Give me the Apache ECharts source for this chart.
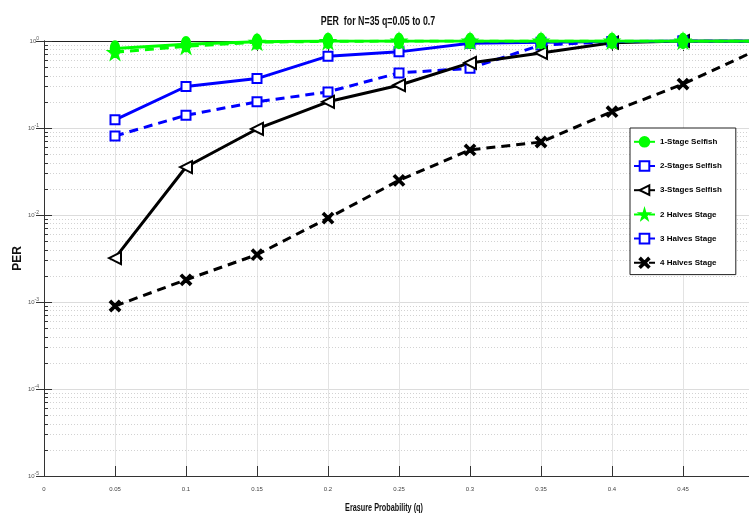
<!DOCTYPE html>
<html>
<head>
<meta charset="utf-8">
<script src="https://cdn.jsdelivr.net/npm/echarts@6/dist/echarts.min.js"></script>
<style>
  html, body { margin: 0; padding: 0; background: #fff; }
  #main { width: 749px; height: 515px; }
</style>
</head>
<body>
<div id="main"></div>
<script>
// erasure probability q
const qValues = [0.05, 0.1, 0.15, 0.2, 0.25, 0.3, 0.35, 0.4, 0.45, 0.5];

// PER
const oneStageSelfish = [0.82, 0.92, 0.98, 1, 1, 1, 1, 1, 1, 1];
const twoStagesSelfish = [0.124, 0.30, 0.37, 0.67, 0.75, 0.94, 0.97, 0.99, 1, 1];
const threeStagesSelfish = [0.0032, 0.0356, 0.0975, 0.2, 0.31, 0.56, 0.73, 0.955, 1, 1];
const twoHalvesStage = [0.74, 0.87, 0.97, 0.99, 1, 1, 1, 1, 1, 1];
const threeHalvesStage = [0.081, 0.14, 0.20, 0.26, 0.43, 0.485, 0.9, 0.98, 1, 1];
const fourHalvesStage = [0.0009, 0.0018, 0.0035, 0.0092, 0.025, 0.056, 0.069, 0.154, 0.32, 0.76];

const legendNames = ["1-Stage Selfish", "2-Stages Selfish", "3-Stages Selfish",
  "2 Halves Stage", "3 Halves Stage", "4 Halves Stage"];

// minor log ticks (2..9 in each decade)
const decades = [1e-5, 1e-4, 1e-3, 1e-2, 1e-1];
const minorSteps = [2, 3, 4, 5, 6, 7, 8, 9];
const minorTicks = [];
decades.forEach(d => minorSteps.forEach(s => minorTicks.push([0, s * d])));

const FONT = "'Liberation Sans', Arial, sans-serif";
const starPath = "path://M50,0 L61,35 L98,35 L68,57 L79,91 L50,70 L21,91 L32,57 L2,35 L39,35 Z";
const crossPath = "path://M0,12 L12,0 L50,38 L88,0 L100,12 L62,50 L100,88 L88,100 L50,62 L12,100 L0,88 L38,50 Z";

function pts(values) {
  // last point (q = 0.5) lies at the cut-off right edge, no marker there
  return values.map((v, i) => {
    if (i === values.length - 1) return { value: [qValues[i], v], symbol: "none" };
    return [qValues[i], v];
  });
}

function lineSeries(name, values, color, dashed, symbol, symbolSize, extra) {
  return Object.assign({
    name: name,
    type: "line",
    data: pts(values),
    symbol: symbol,
    symbolSize: symbolSize,
    showAllSymbol: true,
    lineStyle: { color: color, width: 3, type: dashed ? [9, 6] : "solid" },
    itemStyle: { color: color, borderColor: color, borderWidth: 2 },
    z: 3
  }, extra || {});
}

const chart = echarts.init(document.getElementById("main"));

const option = {
  animation: false,
  // narrow (condensed) bold text like the original figure
  graphic: [{
    type: "text",
    x: 378, y: 21,
    scaleX: 0.68,
    style: {
      text: "PER  for N=35 q=0.05 to 0.7",
      font: "bold 13px 'Liberation Sans', Arial, sans-serif",
      fill: "#111", textAlign: "center", textVerticalAlign: "middle"
    }
  }, {
    type: "text",
    x: 384, y: 508,
    scaleX: 0.66,
    style: {
      text: "Erasure Probability (q)",
      font: "bold 11px 'Liberation Sans', Arial, sans-serif",
      fill: "#111", textAlign: "center", textVerticalAlign: "middle"
    }
  }],
  legend: {
    data: legendNames,
    orient: "vertical",
    left: 630,
    top: 128,
    backgroundColor: "#fff",
    borderColor: "#222",
    borderWidth: 1,
    padding: [8, 14, 6, 3],
    itemWidth: 21,
    itemHeight: 12,
    itemGap: 12.6,
    textStyle: { fontFamily: FONT, fontSize: 8, fontWeight: "bold", color: "#000" }
  },
  grid: { left: 44, top: 41, right: -5, bottom: 39, outerBoundsMode: "none", containLabel: false },
  xAxis: [{
    type: "value",
    min: 0,
    max: 0.5,
    interval: 0.05,
    axisLine: { lineStyle: { color: "#333", width: 1 } },
    axisTick: { inside: true, length: 10, lineStyle: { color: "#333" } },
    axisLabel: {
      fontFamily: FONT, fontSize: 6, color: "#444", margin: 10,
      formatter: v => v === 0 ? "0" : String(+v.toFixed(2))
    },
    splitLine: { show: true, lineStyle: { color: "#e3e3e3", width: 1 } }
  }, {
    type: "value",
    position: "top",
    min: 0,
    max: 0.5,
    interval: 0.05,
    axisLine: { show: true, lineStyle: { color: "#222", width: 1 } },
    axisTick: { show: true, inside: true, length: 10, lineStyle: { color: "#333" } },
    axisLabel: { show: false },
    splitLine: { show: false }
  }],
  yAxis: [{
    type: "log",
    logBase: 10,
    min: 1e-5,
    max: 1,
    name: "PER",
    nameLocation: "middle",
    nameGap: 20,
    nameMoveOverlap: false,
    nameTextStyle: { fontFamily: FONT, fontSize: 12, fontWeight: "bold", color: "#111" },
    axisLine: { show: true, lineStyle: { color: "#333", width: 1 } },
    axisTick: { show: true, inside: true, length: 8, lineStyle: { color: "#333" } },
    axisLabel: {
      margin: 5,
      formatter: v => "{b|10}{e|" + Math.round(Math.log10(v)) + "}",
      rich: {
        b: { fontFamily: FONT, fontSize: 6, color: "#555", lineHeight: 8, verticalAlign: "middle" },
        e: { fontFamily: FONT, fontSize: 5, color: "#555", lineHeight: 8, verticalAlign: "middle", padding: [0, 0, 5, 0] }
      }
    },
    splitLine: { show: true, lineStyle: { color: "#dcdcdc", width: 1 } }
  }, {
    type: "log",
    logBase: 10,
    min: 1e-5,
    max: 1,
    position: "right",
    axisLine: { show: true, lineStyle: { color: "#333", width: 1 } },
    axisTick: { show: true, inside: true, length: 8, lineStyle: { color: "#333" } },
    axisLabel: { show: false },
    splitLine: { show: false }
  }],
  series: [
    {
      name: "minor",
      type: "custom",
      silent: true,
      z: 1,
      data: minorTicks,
      encode: { x: 0, y: 1 },
      renderItem: function (params, api) {
        const p0 = api.coord([0, api.value(1)]);
        const p1 = api.coord([0.5, api.value(1)]);
        const y = Math.round(p0[1]) + 0.5;
        return {
          type: "group",
          children: [
            { type: "line", shape: { x1: p0[0], y1: y, x2: p1[0], y2: y },
              style: { stroke: "#d2d2d2", lineWidth: 1, lineDash: [1, 2] } },
            { type: "line", shape: { x1: p0[0], y1: y, x2: p0[0] + 4, y2: y },
              style: { stroke: "#333", lineWidth: 1 } },
            { type: "line", shape: { x1: p1[0] - 4, y1: y, x2: p1[0], y2: y },
              style: { stroke: "#333", lineWidth: 1 } }
          ]
        };
      }
    },
    lineSeries("4 Halves Stage", fourHalvesStage, "#000000", true, crossPath, 10),
    lineSeries("3 Halves Stage", threeHalvesStage, "#0000ff", true, "emptyRect", 9),
    lineSeries("3-Stages Selfish", threeStagesSelfish, "#000000", false, "emptyTriangle", 12, { symbolRotate: 90 }),
    lineSeries("2-Stages Selfish", twoStagesSelfish, "#0000ff", false, "emptyRect", 9),
    lineSeries("2 Halves Stage", twoHalvesStage, "#00ff00", true, starPath, 13, { z: 4 }),
    lineSeries("1-Stage Selfish", oneStageSelfish, "#00ff00", false, "circle", [9, 14], { z: 5 })
  ]
};

chart.setOption(option);
</script>
</body>
</html>
